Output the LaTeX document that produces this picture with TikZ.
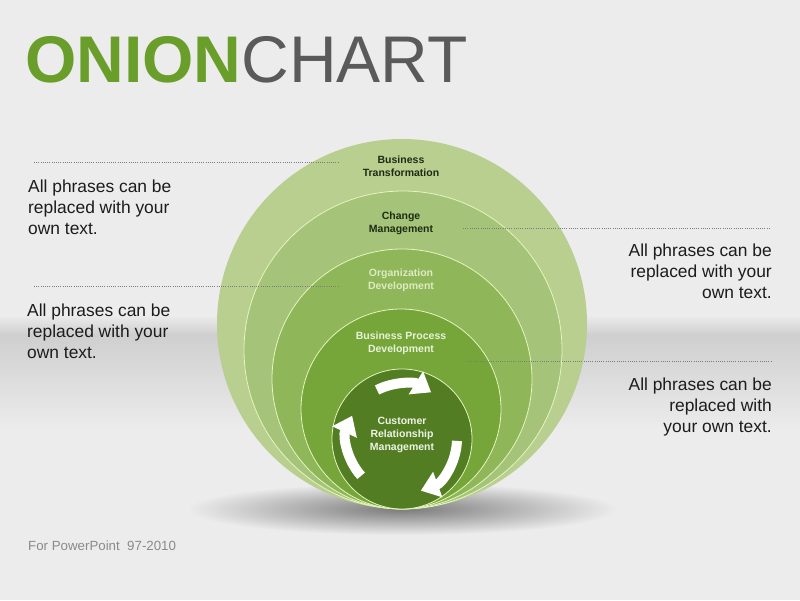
\documentclass[tikz,border=0pt]{standalone}
\usepackage{fontspec}
\setmainfont{Liberation Sans}
\usetikzlibrary{arrows.meta}

\definecolor{bg}{HTML}{ECECEC}
\definecolor{band}{HTML}{CFCFCF}
\definecolor{ringA}{HTML}{B8CF90}
\definecolor{ringB}{HTML}{A5C479}
\definecolor{ringC}{HTML}{8FB75A}
\definecolor{ringD}{HTML}{76A63A}
\definecolor{ringE}{HTML}{537D22}
\definecolor{ringline}{HTML}{E6F4BE}
\definecolor{titlegreen}{HTML}{6A9E2A}
\definecolor{titlegray}{HTML}{5A5A5A}
\definecolor{txt}{HTML}{1C1C1C}
\definecolor{darklabel}{HTML}{1F2A15}
\definecolor{lightlabelA}{HTML}{DDEAC2}
\definecolor{lightlabelB}{HTML}{E8F3D8}
\definecolor{lightlabelC}{HTML}{EEF3E6}
\definecolor{dotgray}{HTML}{7C7C7C}
\definecolor{foot}{HTML}{8A8A8A}

\begin{document}
\begin{tikzpicture}[x=1pt,y=1pt,
 ring/.style={draw=ringline, line width=0.8pt},
 phrase/.style={font=\fontsize{17.4}{21}\selectfont, text=txt, inner sep=0pt},
 lbl/.style={font=\bfseries\fontsize{10.5}{13}\selectfont, inner sep=0pt, align=center},
 leader/.style={draw=dotgray, line width=0.9pt, dash pattern=on 1pt off 1.2pt},
 cyc/.style={draw=white, line width=10pt, -{Triangle[width=26pt,length=18pt]}}
]
\useasboundingbox (0,0) rectangle (800,600);
\fill[bg] (0,0) rectangle (800,600);
\shade[top color=bg, bottom color=band] (0,265) rectangle (800,285);
\shade[top color=band, bottom color=bg] (0,170) rectangle (800,265);
% shadow
\shade[inner color=black!52, outer color=bg] (402,91) ellipse (215 and 26);

% onion rings
\fill[ringA] (402,276) circle (185);
\path[ring, fill=ringB] (403,250) circle (159);
\path[ring, fill=ringC] (402,221) circle (130);
\path[ring, fill=ringD] (401,191) circle (100);
\path[ring, fill=ringE] (402,161) circle (70);

% cycle arrows
\draw[cyc] (402,161) ++(117:55) arc[start angle=117, end angle=58, radius=55];
\draw[cyc] (402,161) ++(-2:55) arc[start angle=-2, end angle=-70, radius=55];
\draw[cyc] (402,161) ++(222:55) arc[start angle=222, end angle=155, radius=55];

% ring labels
\node[lbl, text=darklabel] (bt) at (401,434) {Business\\Transformation};
\node[lbl, text=darklabel] (cm) at (401,377) {Change\\Management};
\node[lbl, text=lightlabelA] (od) at (401,320) {Organization\\Development};
\node[lbl, text=lightlabelB] (bpd) at (401,257) {Business Process\\Development};
\node[lbl, text=lightlabelC] (crm) at (402,165) {Customer\\Relationship\\Management};

% leader lines
\coordinate (l1a) at (34,438); \coordinate (l1b) at (338,438);
\coordinate (l2a) at (34,314); \coordinate (l2b) at (338,314);
\coordinate (r1a) at (463,371.3); \coordinate (r1b) at (771,371.3);
\coordinate (r2a) at (467,238.3); \coordinate (r2b) at (771,238.3);
\draw[leader] (l1a) -- (l1b);
\draw[leader] (l2a) -- (l2b);
\draw[leader] (r1a) -- (r1b);
\draw[leader] (r2a) -- (r2b);

% phrases
\node[phrase, anchor=north west, align=left] (p1) at (28,420.5) {All phrases can be\\replaced with your\\own text.};
\node[phrase, anchor=north west, align=left] (p2) at (27,296.5) {All phrases can be\\replaced with your\\own text.};
\node[phrase, anchor=north east, align=right] (p3) at (772,356.5) {All phrases can be\\replaced with your\\own text.};
\node[phrase, anchor=north east, align=right] (p4) at (772,222.5) {All phrases can be\\replaced with\\your own text.};

% title
\node[anchor=base west, inner sep=0pt, font=\fontsize{66}{70}\selectfont] (title) at (25,517) {\textcolor{titlegreen}{\bfseries ONION}\textcolor{titlegray}{CHART}};

% footer
\node[anchor=base west, inner sep=0pt, font=\fontsize{13.3}{16}\selectfont, text=foot] (foot) at (28,49.3) {For PowerPoint\ \ 97-2010};
\end{tikzpicture}
\end{document}
